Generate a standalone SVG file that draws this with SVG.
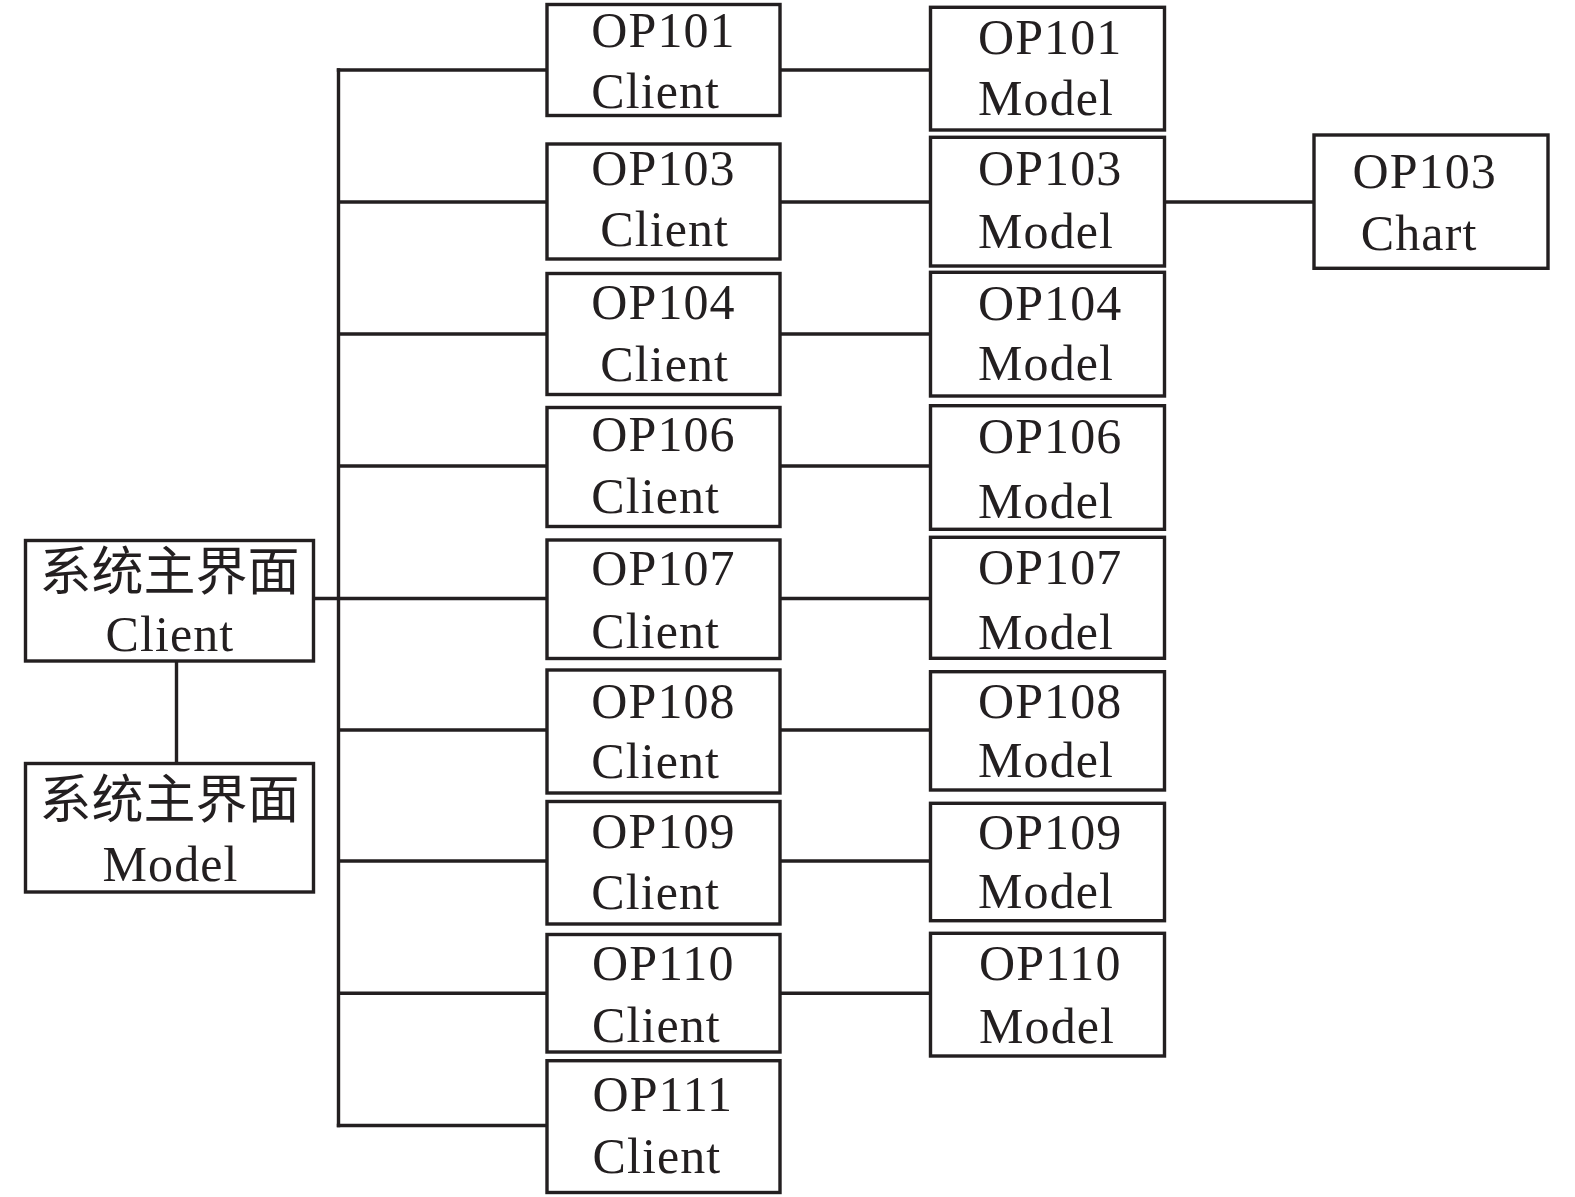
<svg xmlns="http://www.w3.org/2000/svg" width="1575" height="1197" viewBox="0 0 1575 1197">
<style>
rect.n{fill:#fff;stroke:#231f20;stroke-width:3.4}
.c line{stroke:#231f20;stroke-width:3.4}
text{font-family:"Liberation Serif","Times New Roman",serif;font-size:50px;letter-spacing:1.1px;fill:#231f20}
text.cjk{font-family:"Liberation Serif","Noto Sans CJK SC",serif;font-size:52px;letter-spacing:0}
</style>
<rect width="1575" height="1197" fill="#fff"/>
<g class="c" id="connectors">
<line x1="338.5" y1="68.3" x2="338.5" y2="1127.2"/>
<line x1="313.5" y1="598.5" x2="547" y2="598.5"/>
<line x1="176.5" y1="661" x2="176.5" y2="763.5"/>
<line x1="336.8" y1="70" x2="547" y2="70"/>
<line x1="338.5" y1="202" x2="547" y2="202"/>
<line x1="338.5" y1="334" x2="547" y2="334"/>
<line x1="338.5" y1="466" x2="547" y2="466"/>
<line x1="338.5" y1="730" x2="547" y2="730"/>
<line x1="338.5" y1="861" x2="547" y2="861"/>
<line x1="338.5" y1="993.3" x2="547" y2="993.3"/>
<line x1="336.8" y1="1125.5" x2="547" y2="1125.5"/>
<line x1="780" y1="70" x2="930.5" y2="70"/>
<line x1="780" y1="202" x2="930.5" y2="202"/>
<line x1="780" y1="334" x2="930.5" y2="334"/>
<line x1="780" y1="466" x2="930.5" y2="466"/>
<line x1="780" y1="598.5" x2="930.5" y2="598.5"/>
<line x1="780" y1="730" x2="930.5" y2="730"/>
<line x1="780" y1="861" x2="930.5" y2="861"/>
<line x1="780" y1="993.3" x2="930.5" y2="993.3"/>
<line x1="1164.5" y1="202" x2="1314" y2="202"/>
</g>
<g id="main-client"><rect class="n" x="25.5" y="540.5" width="288" height="120.5"/><text class="cjk" x="169.5" y="590" text-anchor="middle">系统主界面</text><text x="105.5" y="651">Client</text></g>
<g id="main-model"><rect class="n" x="25.5" y="763.5" width="288" height="128.5"/><text class="cjk" x="169.5" y="818" text-anchor="middle">系统主界面</text><text x="102.5" y="881">Model</text></g>
<g id="op101-client"><rect class="n" x="547" y="4.5" width="233" height="111"/><text x="591.3" y="46.7">OP101</text><text x="591.3" y="108.3">Client</text></g>
<g id="op103-client"><rect class="n" x="547" y="144" width="233" height="115"/><text x="591.3" y="185">OP103</text><text x="600.3" y="246">Client</text></g>
<g id="op104-client"><rect class="n" x="547" y="273.5" width="233" height="121"/><text x="591.3" y="319.3">OP104</text><text x="600.3" y="380.7">Client</text></g>
<g id="op106-client"><rect class="n" x="547" y="407.5" width="233" height="119"/><text x="591.3" y="450.7">OP106</text><text x="591.3" y="513.3">Client</text></g>
<g id="op107-client"><rect class="n" x="547" y="540" width="233" height="118.5"/><text x="591.3" y="585">OP107</text><text x="591.3" y="648.3">Client</text></g>
<g id="op108-client"><rect class="n" x="547" y="670" width="233" height="123"/><text x="591.3" y="717.7">OP108</text><text x="591.3" y="778.3">Client</text></g>
<g id="op109-client"><rect class="n" x="547" y="801.5" width="233" height="122.5"/><text x="591.3" y="848.3">OP109</text><text x="591.3" y="909.3">Client</text></g>
<g id="op110-client"><rect class="n" x="547" y="934.5" width="233" height="117.5"/><text x="592" y="979.5">OP110</text><text x="592" y="1042">Client</text></g>
<g id="op111-client"><rect class="n" x="547" y="1060.7" width="233" height="131.8"/><text x="592.5" y="1110.7">OP111</text><text x="592.5" y="1173.3">Client</text></g>
<g id="op101-model"><rect class="n" x="930.5" y="7.3" width="234" height="122.7"/><text x="978" y="54">OP101</text><text x="978" y="115">Model</text></g>
<g id="op103-model"><rect class="n" x="930.5" y="137.3" width="234" height="128.7"/><text x="978" y="185">OP103</text><text x="978" y="247.7">Model</text></g>
<g id="op104-model"><rect class="n" x="930.5" y="272.3" width="234" height="123.7"/><text x="978" y="320">OP104</text><text x="978" y="380">Model</text></g>
<g id="op106-model"><rect class="n" x="930.5" y="405.7" width="234" height="123.6"/><text x="978" y="452.7">OP106</text><text x="978" y="518.3">Model</text></g>
<g id="op107-model"><rect class="n" x="930.5" y="537.3" width="234" height="121"/><text x="978" y="584.3">OP107</text><text x="978" y="649.3">Model</text></g>
<g id="op108-model"><rect class="n" x="930.5" y="671.7" width="234" height="118.3"/><text x="978" y="718.3">OP108</text><text x="978" y="776.7">Model</text></g>
<g id="op109-model"><rect class="n" x="930.5" y="803.3" width="234" height="117.4"/><text x="978" y="849.3">OP109</text><text x="978" y="908.3">Model</text></g>
<g id="op110-model"><rect class="n" x="930.5" y="933.3" width="234" height="122.7"/><text x="979" y="980">OP110</text><text x="979" y="1042.7">Model</text></g>
<g id="op103-chart"><rect class="n" x="1314" y="135" width="234" height="133.3"/><text x="1352.5" y="188.3">OP103</text><text x="1360.8" y="250">Chart</text></g>
</svg>
